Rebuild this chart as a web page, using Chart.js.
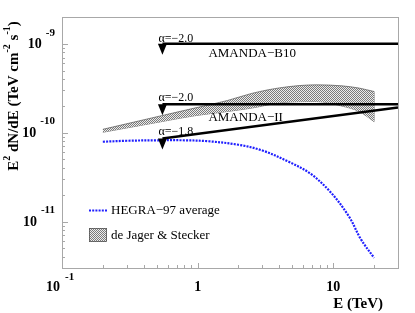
<!DOCTYPE html>
<html>
<head>
<meta charset="utf-8">
<script src="https://cdn.jsdelivr.net/npm/chart.js@4/dist/chart.umd.min.js"></script>
<style>html,body{margin:0;background:#fff}canvas{display:block}</style>
</head>
<body>
<canvas id="c" width="415" height="313"></canvas>
<script>
const SERIF = "'Liberation Serif', 'Times New Roman', serif";

// E in TeV, flux as E^2 dN/dE in TeV cm^-2 s^-1
const amandaE = [0.55, 30];
const amandaB10 = [1e-9, 1e-9];
const amandaII20 = [2.09e-10, 2.09e-10];
const amandaII18 = [8.6e-11, 1.92e-10];

const hegraE = [0.2, 0.3, 0.5, 0.8, 1.2, 2, 3, 4.7, 6.7, 9.4, 13, 16, 20];
const hegraF = [7.9e-11, 8.1e-11, 8.2e-11, 8.2e-11, 8.0e-11, 7.3e-11, 6.3e-11, 4.7e-11, 3.5e-11, 2.2e-11, 1.15e-11, 6.3e-12, 3.9e-12];

// de Jager & Stecker band
const bandE = [0.2, 0.54, 0.95, 1.66, 2.5, 4.2, 7.5, 11.6, 15.5, 20];
const bandHi = [1.09e-10, 1.55e-10, 1.89e-10, 2.30e-10, 2.76e-10, 3.22e-10, 3.45e-10, 3.36e-10, 3.17e-10, 2.90e-10];
const bandLo = [1.01e-10, 1.33e-10, 1.55e-10, 1.73e-10, 1.89e-10, 2.18e-10, 2.24e-10, 1.99e-10, 1.73e-10, 1.33e-10];

const xTicks = [0.1, 1, 10];
const xTickLabels = [['10', '-1'], ['1', ''], ['10', '']];
const yTicks = [1e-11, 1e-10, 1e-9];
const yTickLabels = [['10', '-11'], ['10', '-10'], ['10', '-9']];

const pts = (xs, ys) => xs.map((x, i) => ({ x, y: ys[i] }));

const canvas = document.getElementById('c');
const ctx0 = canvas.getContext('2d');

function hatch() {
  const c = document.createElement('canvas'); c.width = c.height = 2;
  const g = c.getContext('2d');
  g.fillStyle = '#ececec'; g.fillRect(0, 0, 2, 2);
  g.fillStyle = '#7a7a7a'; g.fillRect(0, 0, 1, 1); g.fillRect(1, 1, 1, 1);
  return ctx0.createPattern(c, 'repeat');
}
const PAT = hatch();
const BLUE = '#1f1fff';

function minors(lo, hi) {
  const out = [];
  for (let d = Math.pow(10, Math.floor(Math.log10(lo))); d < hi; d *= 10)
    for (let k = 2; k <= 9; k++) { const v = k * d; if (v > lo && v < hi) out.push(v); }
  return out;
}

function text(ctx, s, x, y, font, align) {
  ctx.font = font; ctx.textAlign = align || 'left'; ctx.textBaseline = 'middle';
  ctx.fillText(s, x, y);
}

const decor = {
  id: 'decor',
  afterDraw(chart) {
    const { ctx, chartArea: a, scales: { x, y } } = chart;
    ctx.save();
    // frame + ticks
    ctx.strokeStyle = '#a8a8a8'; ctx.lineWidth = 1;
    ctx.strokeRect(a.left + .5, a.top + .5, a.right - a.left, a.bottom - a.top);
    ctx.beginPath();
    yTicks.forEach((v) => { const p = Math.round(y.getPixelForValue(v)) + .5; ctx.moveTo(a.left, p); ctx.lineTo(a.left + 6, p); });
    minors(y.min, y.max).forEach((v) => { const p = Math.round(y.getPixelForValue(v)) + .5; ctx.moveTo(a.left, p); ctx.lineTo(a.left + 3, p); });
    xTicks.forEach((v) => { const p = Math.round(x.getPixelForValue(v)) + .5; ctx.moveTo(p, a.bottom); ctx.lineTo(p, a.bottom - 5); });
    minors(x.min, x.max).forEach((v) => { const p = Math.round(x.getPixelForValue(v)) + .5; ctx.moveTo(p, a.bottom); ctx.lineTo(p, a.bottom - 3); });
    ctx.stroke();

    ctx.fillStyle = '#000';
    const big = 'bold 14px ' + SERIF, sup = 'bold 11px ' + SERIF;
    yTicks.forEach((v, i) => {
      const p = y.getPixelForValue(v), [b, s] = yTickLabels[i];
      ctx.font = sup; const w = ctx.measureText(s).width;
      text(ctx, s, a.left - 7, p - 11, sup, 'right');
      text(ctx, b, a.left - 7 - w - 4, p + 1, big, 'right');
    });
    xTicks.forEach((v, i) => {
      const p = x.getPixelForValue(v), [b, s] = xTickLabels[i];
      if (!s) { text(ctx, b, p, a.bottom + 19, big, 'center'); return; }
      text(ctx, b, p - 2, a.bottom + 19, big, 'right');
      text(ctx, s, p + 3, a.bottom + 9, sup, 'left');
    });

    // axis titles
    text(ctx, 'E (TeV)', 383, 304, 'bold 15px ' + SERIF, 'right');
    const segs = [['E', 0], ['2', 1], [' dN/dE (TeV cm', 0], ['-2', 1], [' s', 0], ['-1', 1], [')', 0]];
    const mf = 'bold 15px ' + SERIF, sf = 'bold 10px ' + SERIF;
    let tot = 0;
    segs.forEach(([s, u]) => { ctx.font = u ? sf : mf; tot += ctx.measureText(s).width; });
    ctx.translate(14, 96); ctx.rotate(-Math.PI / 2);
    let cx = -tot / 2;
    segs.forEach(([s, u]) => {
      text(ctx, s, cx, u ? -7 : 0, u ? sf : mf, 'left');
      cx += ctx.measureText(s).width;
    });
    ctx.setTransform(1, 0, 0, 1, 0, 0);

    // upper-limit arrows and labels
    const lab = '12px ' + SERIF, nm = '13px ' + SERIF;
    [4, 5, 6].forEach((di) => {
      const p = chart.getDatasetMeta(di).data[0];
      ctx.beginPath(); ctx.moveTo(p.x - 4.5, p.y); ctx.lineTo(p.x + 4.5, p.y); ctx.lineTo(p.x, p.y + 11); ctx.closePath();
      ctx.fillStyle = '#000'; ctx.fill();
    });
    const x0 = x.getPixelForValue(amandaE[0]);
    text(ctx, 'α=−2.0', x0 - 4, y.getPixelForValue(amandaB10[0]) - 5, lab);
    text(ctx, 'AMANDA−B10', x0 + 46, y.getPixelForValue(amandaB10[0]) + 10, nm);
    text(ctx, 'α=−2.0', x0 - 4, y.getPixelForValue(amandaII20[0]) - 6, lab);
    text(ctx, 'AMANDA−II', x0 + 46, y.getPixelForValue(amandaII20[0]) + 13, nm);
    text(ctx, 'α=−1.8', x0 - 4, y.getPixelForValue(amandaII18[0]) - 7, lab);

    // legend
    ctx.strokeStyle = BLUE; ctx.lineWidth = 2.2; ctx.setLineDash([2, 1.2]);
    ctx.beginPath(); ctx.moveTo(89, 210.5); ctx.lineTo(108, 210.5); ctx.stroke();
    ctx.setLineDash([]);
    text(ctx, 'HEGRA−97 average', 111, 211, nm);
    ctx.fillStyle = PAT; ctx.fillRect(89, 228, 18, 14);
    ctx.strokeStyle = '#555'; ctx.lineWidth = 0.8; ctx.strokeRect(89.5, 228.5, 17, 13);
    ctx.fillStyle = '#000';
    text(ctx, 'de Jager & Stecker', 111, 235.5, nm);
    ctx.restore();
  },
};

const bandLine = { borderColor: '#555', borderWidth: 0.7, pointRadius: 0, cubicInterpolationMode: 'monotone', order: 5 };
const limit = { borderColor: '#000', borderWidth: 2.6, pointRadius: 0, fill: false, order: 1 };

new Chart(canvas, {
  type: 'line',
  data: {
    datasets: [
      { ...bandLine, data: pts(bandE, bandHi), fill: '+1', backgroundColor: PAT },
      { ...bandLine, data: pts(bandE, bandLo), fill: false },
      { ...bandLine, data: [{ x: bandE[bandE.length - 1], y: bandHi[bandHi.length - 1] }, { x: bandE[bandE.length - 1], y: bandLo[bandLo.length - 1] }], fill: false },
      { data: pts(hegraE, hegraF), borderColor: BLUE, borderWidth: 2.2, borderDash: [2, 1.2], pointRadius: 0, tension: .35, fill: false, order: 3 },
      { ...limit, data: pts(amandaE, amandaB10) },
      { ...limit, data: pts(amandaE, amandaII20) },
      { ...limit, data: pts(amandaE, amandaII18) },
    ],
  },
  options: {
    responsive: false, animation: false, events: [],
    layout: { padding: { left: 62, top: 17, right: 17, bottom: 45 } },
    plugins: { legend: { display: false }, tooltip: { enabled: false } },
    scales: {
      x: { type: 'logarithmic', min: 0.1, max: 30, display: false },
      y: { type: 'logarithmic', min: 3e-12, max: 2e-9, display: false },
    },
  },
  plugins: [decor],
});
</script>
</body>
</html>
